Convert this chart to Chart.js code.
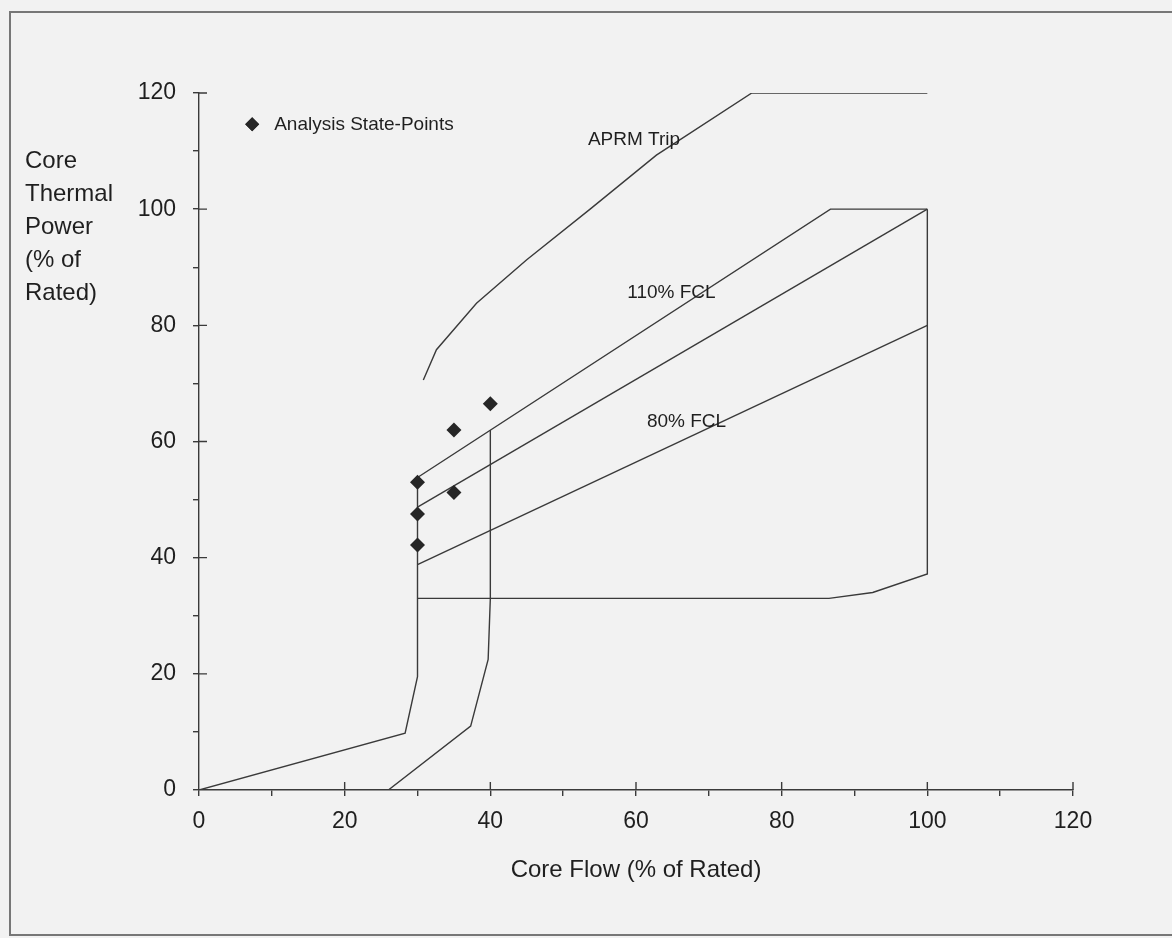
<!DOCTYPE html>
<html>
<head>
<meta charset="utf-8">
<script src="https://cdn.jsdelivr.net/npm/chart.js@4.4.0/dist/chart.umd.min.js"></script>
<style>
  html, body { margin: 0; padding: 0; background: #f2f2f2; }
  #wrap { position: relative; width: 1172px; height: 938px; }
  #frame { position: absolute; left: 9px; top: 11px; width: 1170px; height: 925px; border: 2px solid #777; border-right: none; box-sizing: border-box; }
  #chart { position: absolute; left: 0; top: 0; }
</style>
</head>
<body>
<div id="wrap">
  <div id="frame"></div>
  <canvas id="chart" width="1172" height="938"></canvas>
</div>
<script>
// state points and operating-map boundary lines
const statePointsX = [30, 30, 30, 35, 35, 40];
const statePointsY = [53, 47.5, 42.2, 62, 51.2, 66.5];

const naturalCircX = [0, 28.3, 30, 30];
const naturalCircY = [0, 9.8, 19.5, 53.8];

const pumpCurveX = [26, 37.3, 39.7, 40, 40];
const pumpCurveY = [0, 11, 22.5, 33, 62];

const minPumpX = [30, 86.5, 92.5, 100, 100];
const minPumpY = [33, 33, 34, 37.2, 100];

const fcl80X = [30, 100];
const fcl80Y = [38.8, 80];

const rodLineX = [30, 100];
const rodLineY = [48.7, 100];

const fcl110X = [30, 86.7, 100];
const fcl110Y = [53.8, 100, 100];

const aprmX = [30.8, 32.6, 38.1, 45, 53.7, 62.8, 75.9, 100];
const aprmY = [70.6, 75.8, 83.8, 91.3, 100, 109.3, 120, 120];

const lineLabels = ['APRM Trip', '110% FCL', '80% FCL'];
const lineLabelX = [53.4, 58.8, 61.5];
const lineLabelY = [111.9, 85.6, 63.4];

const legendLabel = 'Analysis State-Points';
const yTitleLines = ['Core', 'Thermal', 'Power', '(% of', 'Rated)'];
const xTitle = 'Core Flow (% of Rated)';

const FONT = "'Liberation Sans', Arial, sans-serif";
const INK = '#1f1f1f';
const LINE = '#3a3a3a';

function toPoints(xs, ys) {
    return xs.map((x, i) => ({ x: x, y: ys[i] }));
}

function lineSet(xs, ys) {
    return {
        data: toPoints(xs, ys),
        showLine: true,
        borderColor: LINE,
        borderWidth: 1.4,
        pointRadius: 0,
        fill: false,
        tension: 0
    };
}

const extrasPlugin = {
    id: 'extras',
    afterDraw(chart) {
        const ctx = chart.ctx;
        const xs = chart.scales.x;
        const ys = chart.scales.y;
        const area = chart.chartArea;
        ctx.save();

        // inner half of the major ticks (crossing marks)
        ctx.strokeStyle = LINE;
        ctx.lineWidth = 1.4;
        ctx.beginPath();
        for (let v = 20; v <= 120; v += 20) {
            const px = xs.getPixelForValue(v);
            ctx.moveTo(px, area.bottom);
            ctx.lineTo(px, area.bottom - 8);
            const py = ys.getPixelForValue(v);
            ctx.moveTo(area.left, py);
            ctx.lineTo(area.left + 8, py);
        }
        ctx.stroke();

        // y axis title, stacked on the left
        ctx.fillStyle = INK;
        ctx.font = '24px ' + FONT;
        ctx.textAlign = 'left';
        ctx.textBaseline = 'alphabetic';
        yTitleLines.forEach((t, i) => ctx.fillText(t, 25, 168 + i * 33));

        // labels on the boundary lines
        ctx.font = '19px ' + FONT;
        ctx.textBaseline = 'middle';
        lineLabels.forEach((t, i) => {
            ctx.fillText(t, xs.getPixelForValue(lineLabelX[i]), ys.getPixelForValue(lineLabelY[i]));
        });

        // legend entry inside the plot
        const lx = xs.getPixelForValue(7.3);
        const ly = ys.getPixelForValue(114.6);
        ctx.fillStyle = '#262626';
        Chart.helpers.drawPoint(ctx, { pointStyle: 'rectRot', radius: 7, borderWidth: 0 }, lx, ly);
        ctx.fill();
        ctx.fillStyle = INK;
        ctx.font = '19px ' + FONT;
        ctx.fillText(legendLabel, lx + 22, ly);
        ctx.restore();
    }
};

new Chart(document.getElementById('chart'), {
    type: 'scatter',
    data: {
        datasets: [
            {
                data: toPoints(statePointsX, statePointsY),
                pointStyle: 'rectRot',
                pointRadius: 7.5,
                backgroundColor: '#262626',
                borderColor: '#262626',
                borderWidth: 0
            },
            lineSet(naturalCircX, naturalCircY),
            lineSet(pumpCurveX, pumpCurveY),
            lineSet(minPumpX, minPumpY),
            lineSet(fcl80X, fcl80Y),
            lineSet(rodLineX, rodLineY),
            lineSet(fcl110X, fcl110Y),
            lineSet(aprmX, aprmY)
        ]
    },
    options: {
        responsive: false,
        animation: false,
        layout: { padding: { left: 0, top: 93, right: 99, bottom: 0 } },
        plugins: { legend: { display: false }, tooltip: { enabled: false } },
        scales: {
            x: {
                type: 'linear',
                min: 0,
                max: 120,
                afterFit(scale) { scale.height = 148; },
                ticks: {
                    stepSize: 10,
                    autoSkip: false,
                    maxRotation: 0,
                    padding: 12,
                    color: INK,
                    font: { family: FONT, size: 23 },
                    callback: v => (v % 20 === 0 ? v : '')
                },
                grid: { drawOnChartArea: false, drawTicks: true, tickLength: 6, color: LINE, lineWidth: 1.4 },
                border: { display: true, color: LINE, width: 1.4 },
                title: {
                    display: true,
                    text: xTitle,
                    color: INK,
                    font: { family: FONT, size: 24 },
                    padding: { top: 0, bottom: 53 }
                }
            },
            y: {
                type: 'linear',
                min: 0,
                max: 120,
                afterFit(scale) { scale.width = 199; },
                ticks: {
                    stepSize: 10,
                    autoSkip: false,
                    padding: 17,
                    color: INK,
                    font: { family: FONT, size: 23 },
                    callback: v => (v % 20 === 0 ? v : '')
                },
                grid: { drawOnChartArea: false, drawTicks: true, tickLength: 6, color: LINE, lineWidth: 1.4 },
                border: { display: true, color: LINE, width: 1.4 }
            }
        }
    },
    plugins: [extrasPlugin]
});
</script>
</body>
</html>
